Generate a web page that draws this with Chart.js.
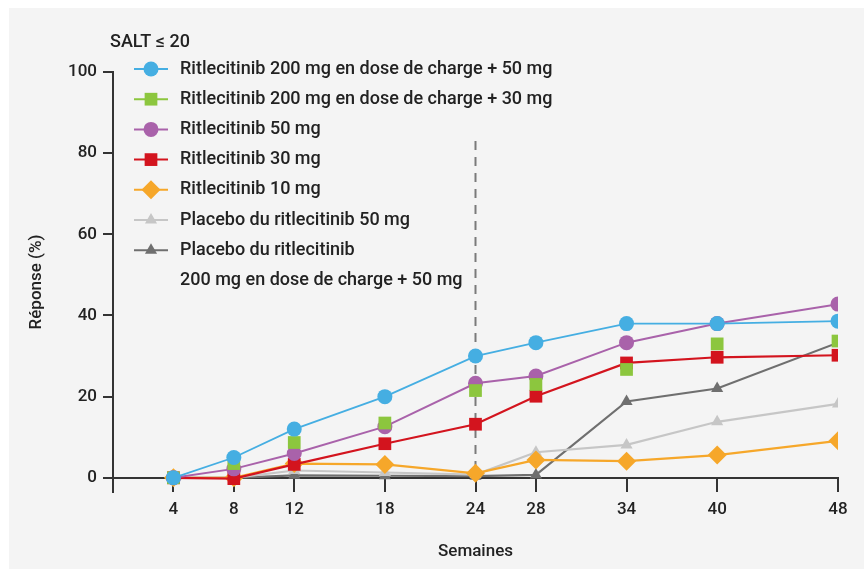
<!DOCTYPE html>
<html>
<head>
<meta charset="utf-8">
<script src="https://cdn.jsdelivr.net/npm/chart.js@4"></script>
<style>
  html, body { margin: 0; padding: 0; background: #ffffff; }
  #wrap { position: absolute; left: 0; top: 0; width: 864px; height: 569px; }
  #panel { position: absolute; left: 9px; top: 8px; right: 0; bottom: 0; background: #f4f4f4; }
  #chart { position: absolute; left: 0; top: 0; }
</style>
</head>
<body>
<div id="wrap">
  <div id="panel"></div>
  <canvas id="chart" width="864" height="569"></canvas>
</div>
<script>
// weeks on the x axis (linear, ticks only where measured)
const weeks = [4, 8, 12, 18, 24, 28, 34, 40, 48];
const yTicks = [0, 20, 40, 60, 80, 100];

const load50   = [0, 5, 12, 20, 30, 33.3, 38, 38, 38.6];
const load30   = [0, 3.5, 8.7, 13.5, 21.5, 23, 26.7, 33, 33.7];
const dose50   = [0, 2.2, 6, 12.6, 23.3, 25.1, 33.3, 38, 42.8];
const dose30   = [0, -0.2, 3.3, 8.4, 13.2, 20.1, 28.3, 29.7, 30.2];
const dose10   = [0, 0, 3.5, 3.3, 1.1, 4.4, 4.1, 5.6, 9.1];
const placebo50   = [0, 0, 1.8, 1.3, 0.8, 6.3, 8.1, 13.8, 18.2];
const placeboLoad = [0, 0, 0.6, 0.5, 0.4, 0.7, 18.8, 22, 33.3];

const salt = "SALT \u2264 20";
const dashWeek = 24;   // vertical reference line
const dashTop = 83;

const font = "Roboto, 'Liberation Sans', sans-serif";
const ink = "#222222";

function pts(vals) {
  return vals.map((v, i) => ({x: weeks[i], y: v}));
}

function series(label, vals, color, style, radius, lineWidth, showLine) {
  return {
    label: label,
    data: pts(vals),
    borderColor: color,
    backgroundColor: color,
    pointStyle: style,
    pointRadius: radius,
    pointHoverRadius: radius,
    pointBorderWidth: 0,
    borderWidth: lineWidth,
    showLine: showLine,
    tension: 0
  };
}

const datasets = [
  series(["Ritlecitinib 200 mg en dose de charge + 50 mg"], load50, "#45aee2", "circle", 7.5, 1.8, true),
  series(["Ritlecitinib 200 mg en dose de charge + 30 mg"], load30, "#8cc63e", "rect", 9, 2, false),
  series(["Ritlecitinib 50 mg"], dose50, "#a962aa", "circle", 7.5, 2, true),
  series(["Ritlecitinib 30 mg"], dose30, "#d3141e", "rect", 9, 2.2, true),
  series(["Ritlecitinib 10 mg"], dose10, "#f6a72a", "rectRot", 9.5, 2.2, true),
  series(["Placebo du ritlecitinib 50 mg"], placebo50, "#c6c6c6", "triangle", 7, 2.2, true),
  series(["Placebo du ritlecitinib", "200 mg en dose de charge + 50 mg"], placeboLoad, "#6f6f6f", "triangle", 7, 2.2, true)
];

// dashed line at week 24, drawn under the series
const dashLine = {
  id: "dashLine",
  beforeDatasetsDraw(chart) {
    const ctx = chart.ctx;
    const x = chart.scales.x.getPixelForValue(dashWeek);
    ctx.save();
    ctx.strokeStyle = "#7a7a7a";
    ctx.lineWidth = 2;
    ctx.setLineDash([9, 7]);
    ctx.beginPath();
    ctx.moveTo(x, chart.scales.y.getPixelForValue(dashTop));
    ctx.lineTo(x, chart.scales.y.getPixelForValue(0));
    ctx.stroke();
    ctx.restore();
  }
};

// legend block inside the plot, with the "SALT" heading above it
const legendBox = {
  id: "legendBox",
  afterDraw(chart) {
    const ctx = chart.ctx;
    ctx.save();
    ctx.font = "500 18px " + font;
    ctx.fillStyle = ink;
    ctx.textBaseline = "middle";
    ctx.fillText(salt, 110, 42);
    let y = 69;
    chart.data.datasets.forEach(ds => {
      ctx.strokeStyle = ds.borderColor;
      ctx.lineWidth = 2;
      ctx.beginPath();
      ctx.moveTo(134, y);
      ctx.lineTo(168, y);
      ctx.stroke();
      ctx.fillStyle = ds.backgroundColor;
      Chart.helpers.drawPoint(ctx, {pointStyle: ds.pointStyle, radius: ds.pointRadius, borderWidth: 0, rotation: 0}, 151, y);
      ctx.fillStyle = ink;
      ds.label.forEach(line => {
        ctx.fillText(line, 180, y);
        y += 30.2;
      });
    });
    ctx.restore();
  }
};

const tickFont = {family: font, size: 17, weight: "500"};

new Chart(document.getElementById("chart"), {
  type: "line",
  data: {datasets: datasets},
  options: {
    responsive: false,
    animation: false,
    events: [],
    layout: {padding: {left: 0, right: 26, top: 72, bottom: 77}},
    plugins: {legend: {display: false}, tooltip: {enabled: false}},
    scales: {
      x: {
        type: "linear",
        min: 0,
        max: 48,
        position: {y: 0},
        afterBuildTicks: s => { s.ticks = weeks.map(v => ({value: v})); },
        afterFit: s => { s.height = 79; },
        grid: {display: true, drawOnChartArea: false, drawTicks: true, tickLength: 13, color: "#333333", lineWidth: 2},
        border: {display: true, color: "#333333", width: 2},
        ticks: {color: ink, font: tickFont, padding: 9, autoSkip: false, maxRotation: 0},
        title: {display: true, text: "Semaines", color: ink, font: tickFont, padding: {top: 0, bottom: -5}}
      },
      y: {
        min: -3.5,
        max: 100,
        afterBuildTicks: s => { s.ticks = yTicks.map(v => ({value: v})); },
        afterFit: s => { s.width = 113; },
        grid: {display: true, drawOnChartArea: false, drawTicks: true, tickLength: 10, color: "#333333", lineWidth: 2},
        border: {display: true, color: "#333333", width: 2},
        ticks: {color: ink, font: tickFont, padding: 6},
        title: {display: true, text: "Réponse (%)", color: ink, font: tickFont, padding: {top: 27, bottom: 0}}
      }
    }
  },
  plugins: [dashLine, legendBox]
});
</script>
</body>
</html>
